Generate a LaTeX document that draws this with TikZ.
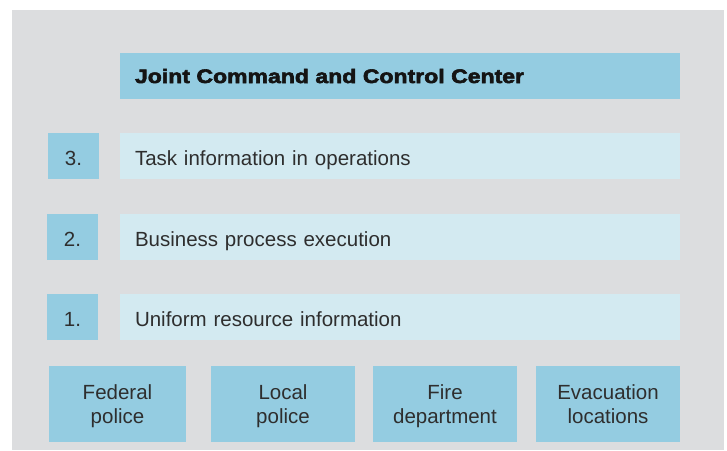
\documentclass[tikz,border=0pt]{standalone}
\usepackage{fontspec}
\setmainfont{Liberation Sans}
\newfontfamily\headfont{Liberation Sans}[FakeStretch=1.18,FakeBold=3]
\definecolor{bgray}{HTML}{DCDDDF}
\definecolor{dblue}{HTML}{94CCE1}
\definecolor{lblue}{HTML}{D3EAF1}
\definecolor{txt}{HTML}{2E2E2E}
\begin{document}
\begin{tikzpicture}[x=1pt,y=-1pt,
  box/.style={rectangle,inner sep=0pt,text=txt,font=\fontsize{20.5}{24}\selectfont},
  darkbox/.style={box,fill=dblue},
  oneline/.style={text height=18,text depth=0},
  lightbox/.style={box,oneline,fill=lblue,minimum height=46,inner xsep=15,text width=530,align=left},
  numbox/.style={darkbox,oneline,minimum width=51,minimum height=46,align=center},
  srcbox/.style={darkbox,text depth=0,minimum height=76,align=center}]
\useasboundingbox (0,0) rectangle (727,450);
\fill[white] (0,0) rectangle (727,450);
\fill[bgray] (12,10) rectangle (724,450);
% header
\node[darkbox,text height=14,text depth=0,minimum height=46,inner xsep=15,text width=530,align=left,text=black!92,
  font=\headfont\bfseries\fontsize{19.5}{22}\selectfont] (head) at (400,76) {Joint Command and Control Center};
% layers
\node[numbox] (n3) at (73.5,156) {3.};
\node[lightbox] (l3) at (400,156) {Task information in operations};
\node[numbox] (n2) at (72.5,237) {2.};
\node[lightbox] (l2) at (400,237) {Business process execution};
\node[numbox] (n1) at (72.5,317) {1.};
\node[lightbox] (l1) at (400,317) {Uniform resource information};
% sources
\node[srcbox,minimum width=137] (fed) at (117.5,404) {Federal\\police};
\node[srcbox,minimum width=144] (loc) at (283,404) {Local\\police};
\node[srcbox,minimum width=144] (fire) at (445,404) {Fire\\department};
\node[srcbox,minimum width=144] (evac) at (608,404) {Evacuation\\locations};
\end{tikzpicture}
\end{document}
